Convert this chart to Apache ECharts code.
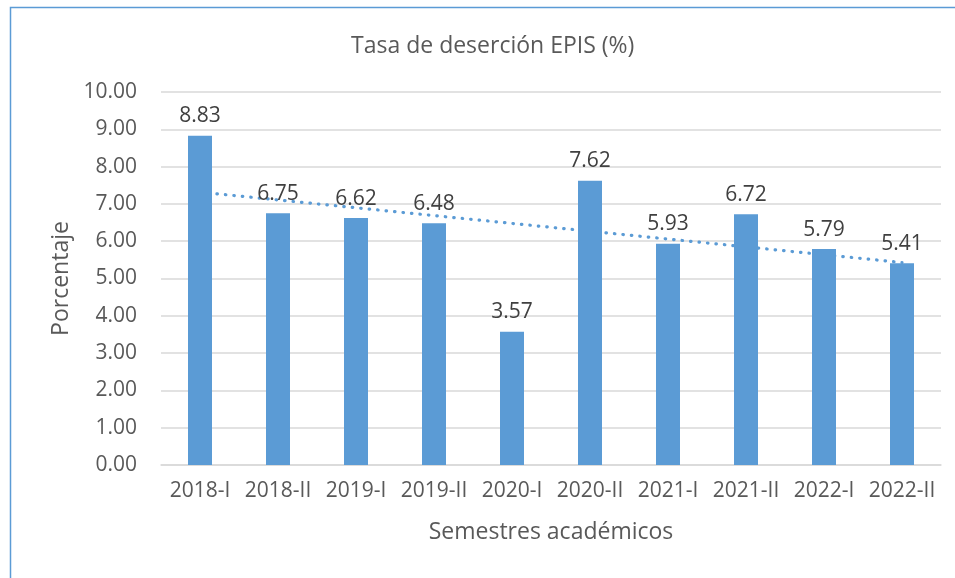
<!DOCTYPE html>
<html>
<head>
<meta charset="utf-8">
<script src="https://cdn.jsdelivr.net/npm/echarts@6/dist/echarts.min.js"></script>
<style>
  html, body { margin: 0; padding: 0; background: #fff; }
  #chart { width: 955px; height: 578px; }
</style>
</head>
<body>
<div id="chart"></div>
<script>
// datos
var semestres = ['2018-I', '2018-II', '2019-I', '2019-II', '2020-I', '2020-II', '2021-I', '2021-II', '2022-I', '2022-II'];
var tasas = [8.83, 6.75, 6.62, 6.48, 3.57, 7.62, 5.93, 6.72, 5.79, 5.41];
var ejeY = { min: 0, max: 10, interval: 1 };

// linea de tendencia lineal (minimos cuadrados), como en Excel
function tendencia(ys) {
    var n = ys.length, sx = 0, sy = 0, sxy = 0, sxx = 0;
    for (var i = 0; i < n; i++) {
        var x = i + 1;
        sx += x; sy += ys[i]; sxy += x * ys[i]; sxx += x * x;
    }
    var b = (n * sxy - sx * sy) / (n * sxx - sx * sx);
    var a = (sy - b * sx) / n;
    return ys.map(function (v, i) { return +(a + b * (i + 1)).toFixed(4); });
}

var chart = echarts.init(document.getElementById('chart'));
var fuente = "'Open Sans', 'Noto Sans', sans-serif";
var azul = '#5b9bd5';

var option = {
    animation: false,
    textStyle: { fontFamily: fuente },
    title: {
        text: 'Tasa de deserción EPIS (%)',
        left: 346,
        top: 30,
        textStyle: { fontFamily: fuente, fontSize: 23, fontWeight: 'normal', color: '#595959' }
    },
    graphic: [{
        type: 'rect',
        shape: { x: 10.5, y: 7.5, width: 1000, height: 700 },
        style: { fill: 'none', stroke: azul, lineWidth: 1.5 },
        silent: true
    }],
    grid: { left: 161, right: 14, top: 92, bottom: 113 },
    xAxis: {
        type: 'category',
        data: semestres,
        name: 'Semestres académicos',
        nameLocation: 'middle',
        nameGap: 56,
        nameTextStyle: { fontSize: 23, color: '#595959' },
        axisLine: { lineStyle: { color: '#d9d9d9', width: 1.5 } },
        axisTick: { show: false },
        axisLabel: { fontSize: 21, color: '#595959', margin: 16, interval: 0 }
    },
    yAxis: {
        type: 'value',
        min: ejeY.min,
        max: ejeY.max,
        interval: ejeY.interval,
        name: 'Porcentaje',
        nameLocation: 'middle',
        nameGap: 88,
        nameTextStyle: { fontSize: 23, color: '#595959' },
        axisLine: { show: false },
        axisTick: { show: false },
        axisLabel: { fontSize: 21, color: '#595959', margin: 24, formatter: function (v) { return v.toFixed(2); } },
        splitLine: { lineStyle: { color: '#d9d9d9', width: 1.5 } }
    },
    series: [
        {
            name: 'Tendencia',
            type: 'line',
            data: tendencia(tasas),
            symbol: 'none',
            z: 1,
            lineStyle: { color: azul, width: 3.2, type: [0.5, 8], cap: 'round' },
            silent: true
        },
        {
            name: 'Tasa',
            type: 'bar',
            data: tasas,
            barWidth: 24,
            z: 2,
            itemStyle: { color: azul },
            label: {
                show: true,
                position: 'top',
                distance: 9,
                fontSize: 21,
                color: '#404040',
                formatter: function (p) { return p.value.toFixed(2); }
            }
        }
    ]
};

chart.setOption(option);
</script>
</body>
</html>
